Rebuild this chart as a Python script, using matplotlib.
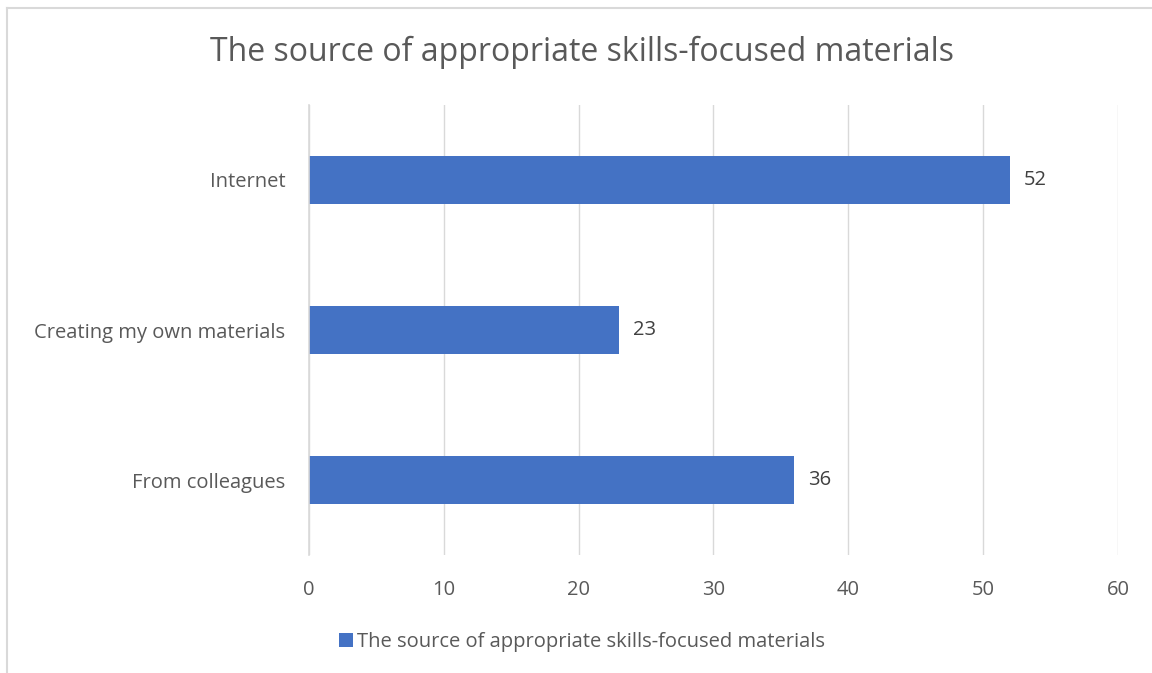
import matplotlib.pyplot as plt
from matplotlib.lines import Line2D

categories = ['From colleagues', 'Creating my own materials', 'Internet']
values = [36, 23, 52]
x_ticks = [0, 10, 20, 30, 40, 50, 60]
title = 'The source of appropriate skills-focused materials'

plt.rcParams['font.family'] = ['Open Sans', 'DejaVu Sans']
text_color = '#595959'
bar_color = '#4472C4'
grid_color = '#D9D9D9'

fig = plt.figure(figsize=(11.52, 6.73), dpi=100)
ax = fig.add_axes([0.2682, 0.1753, 0.7023, 0.6687])

bars = ax.barh(categories, values, height=0.315, color=bar_color, zorder=3,
               label=title)
for bar, v in zip(bars, values):
    ax.annotate(str(v), (bar.get_width(), bar.get_y() + bar.get_height() / 2),
                xytext=(10, 0), textcoords='offset points', va='center',
                ha='left', fontsize=14.5, color='#404040')

ax.set_xlim(0, 60)
ax.set_ylim(-0.5, 2.5)
ax.set_xticks(x_ticks)
ax.grid(axis='x', color=grid_color, linewidth=1, zorder=0)
for s in ['top', 'right', 'bottom']:
    ax.spines[s].set_visible(False)
ax.spines['left'].set_color(grid_color)
ax.spines['left'].set_linewidth(1.2)
ax.spines['left'].set_zorder(4)
ax.tick_params(axis='both', length=0, labelsize=14.5, labelcolor=text_color)
ax.tick_params(axis='x', pad=18)
ax.tick_params(axis='y', pad=17)

fig.text(0.5056, 0.922, title, ha='center', va='center', fontsize=23,
         color=text_color)

fig.legend(handles=bars[:1], labels=[title], loc='center',
           bbox_to_anchor=(0.505, 0.046), frameon=False, fontsize=14.5,
           labelcolor=text_color, handlelength=0.7, handleheight=0.7,
           handletextpad=0.2)

# chart frame (top and left edges visible)
fig.add_artist(Line2D([0.0061, 0.0061], [0, 0.988], color='#D9D9D9', lw=1.5))
fig.add_artist(Line2D([0.0061, 1.0], [0.988, 0.988], color='#D9D9D9', lw=1.5))

fig.savefig('out.png', dpi=100)
